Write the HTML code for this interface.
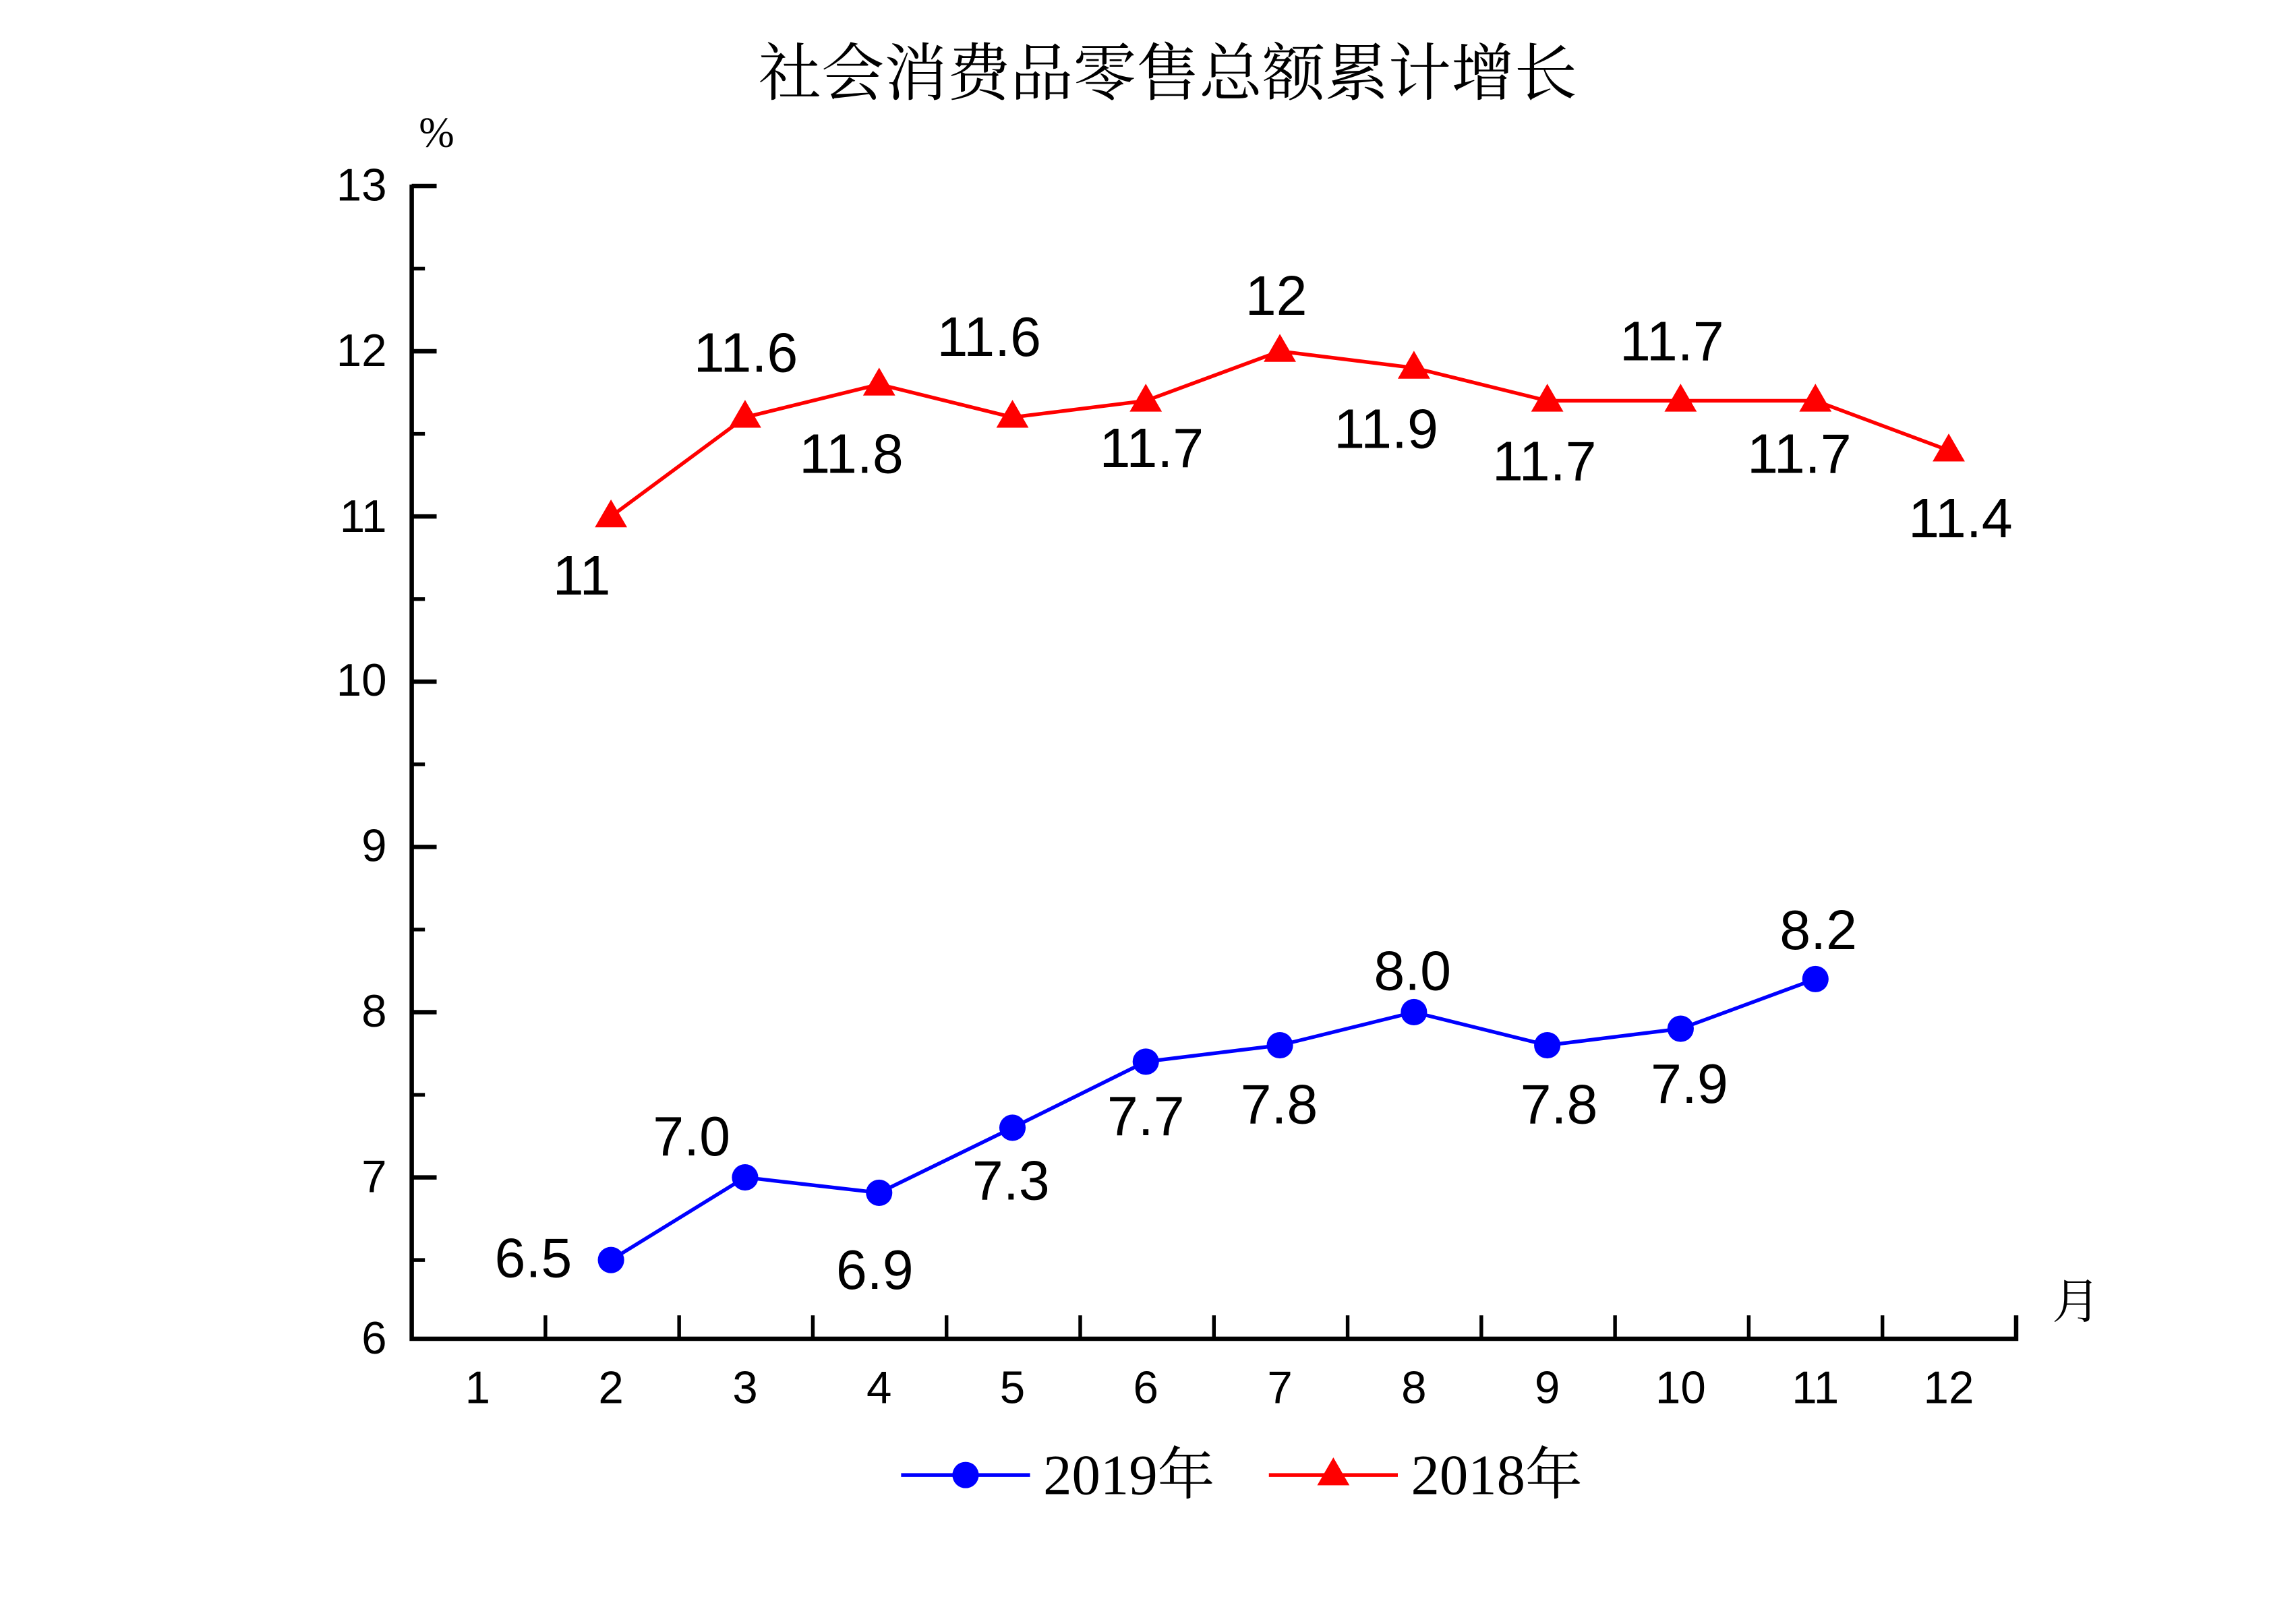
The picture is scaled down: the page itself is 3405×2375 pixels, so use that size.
<!DOCTYPE html>
<html><head><meta charset="utf-8"><style>html,body{margin:0;padding:0;background:#fff}svg{display:block}</style></head>
<body>
<svg width="3405" height="2375" viewBox="0 0 1567 1093" preserveAspectRatio="none" xmlns="http://www.w3.org/2000/svg">
<rect width="1567" height="1093" fill="#fff"/>
<text x="797" y="65" text-anchor="middle" font-family="Liberation Serif, 'Noto Serif CJK SC', serif" font-size="43">社会消费品零售总额累计增长</text>
<text x="298" y="100" text-anchor="middle" font-family="Liberation Serif, serif" font-size="29">%</text>
<text x="1417" y="900" text-anchor="middle" font-family="Liberation Serif, 'Noto Serif CJK SC', serif" font-size="33">月</text>
<g stroke="#000" stroke-width="3" fill="none">
<path d="M281,126 V914 H1376 V898"/>
<path d="M281,127 h17 M281,239.8 h17 M281,352.6 h17 M281,465.4 h17 M281,578.2 h17 M281,691 h17 M281,803.8 h17"/>
<path d="M281,183.4 h9 M281,296.2 h9 M281,409 h9 M281,521.8 h9 M281,634.6 h9 M281,747.4 h9 M281,860.2 h9" stroke-width="2.5"/>
<path d="M372.25,914 v-16 M463.5,914 v-16 M554.75,914 v-16 M646,914 v-16 M737.25,914 v-16 M828.5,914 v-16 M919.75,914 v-16 M1011,914 v-16 M1102.25,914 v-16 M1193.5,914 v-16 M1284.75,914 v-16" stroke-width="2.5"/>
</g>
<g font-family="Liberation Sans, sans-serif" font-size="31" text-anchor="end">
<text x="264" y="137">13</text><text x="264" y="250">12</text><text x="264" y="363">11</text><text x="264" y="475">10</text><text x="264" y="588">9</text><text x="264" y="701">8</text><text x="264" y="814">7</text><text x="264" y="924">6</text>
</g>
<g font-family="Liberation Sans, sans-serif" font-size="31" text-anchor="middle">
<text x="326" y="958">1</text><text x="417" y="958">2</text><text x="508.5" y="958">3</text><text x="600" y="958">4</text><text x="691" y="958">5</text><text x="782" y="958">6</text><text x="873.5" y="958">7</text><text x="965" y="958">8</text><text x="1056" y="958">9</text><text x="1147" y="958">10</text><text x="1239" y="958">11</text><text x="1330" y="958">12</text>
</g>
<polyline fill="none" stroke="#f00" stroke-width="2.5" points="417,352.6 508.5,284.9 600,262.4 691,284.9 782,273.6 873.5,239.8 965,251.1 1056,273.6 1147,273.6 1239,273.6 1330,307.5"/>
<g fill="#f00">
<path d="M417,341 l11,19 h-22z"/><path d="M508.5,273 l11,19 h-22z"/><path d="M600,251 l11,19 h-22z"/><path d="M691,273 l11,19 h-22z"/><path d="M782,262 l11,19 h-22z"/><path d="M873.5,228 l11,19 h-22z"/><path d="M965,239.5 l11,19 h-22z"/><path d="M1056,262 l11,19 h-22z"/><path d="M1147,262 l11,19 h-22z"/><path d="M1239,262 l11,19 h-22z"/><path d="M1330,296 l11,19 h-22z"/>
</g>
<polyline fill="none" stroke="#00f" stroke-width="2.5" points="417,860.2 508.5,803.8 600,814.3 691,769.9 782,724.8 873.5,713.6 965,691 1056,713.6 1147,702.3 1239,668.4"/>
<g fill="#00f">
<circle cx="417" cy="860.2" r="9"/><circle cx="508.5" cy="803.8" r="9"/><circle cx="600" cy="814.3" r="9"/><circle cx="691" cy="769.9" r="9"/><circle cx="782" cy="724.8" r="9"/><circle cx="873.5" cy="713.6" r="9"/><circle cx="965" cy="691" r="9"/><circle cx="1056" cy="713.6" r="9"/><circle cx="1147" cy="702.3" r="9"/><circle cx="1239" cy="668.4" r="9"/>
</g>
<g font-family="Liberation Sans, sans-serif" font-size="38" text-anchor="middle" dominant-baseline="central">
<text x="397" y="393">11</text><text x="509" y="241">11.6</text><text x="581" y="310">11.8</text><text x="675" y="230">11.6</text><text x="786" y="306">11.7</text><text x="871" y="202">12</text><text x="946" y="293">11.9</text><text x="1054" y="315">11.7</text><text x="1141" y="233">11.7</text><text x="1228" y="310">11.7</text><text x="1338" y="354">11.4</text>
<text x="364" y="859">6.5</text><text x="472" y="776">7.0</text><text x="597" y="867">6.9</text><text x="690" y="806">7.3</text><text x="782" y="762">7.7</text><text x="873" y="754">7.8</text><text x="964" y="663">8.0</text><text x="1064" y="754">7.8</text><text x="1153" y="740">7.9</text><text x="1241" y="635">8.2</text>
</g>
<line x1="615" y1="1007" x2="703" y2="1007" stroke="#00f" stroke-width="2.5"/>
<circle cx="659" cy="1007" r="9" fill="#00f"/>
<text x="712" y="1020" font-family="Liberation Serif, 'Noto Serif CJK SC', serif" font-size="39">2019年</text>
<line x1="866" y1="1007" x2="954" y2="1007" stroke="#f00" stroke-width="2.5"/>
<path d="M910,995 l11,19 h-22z" fill="#f00"/>
<text x="963" y="1020" font-family="Liberation Serif, 'Noto Serif CJK SC', serif" font-size="39">2018年</text>
</svg>
</body></html>
